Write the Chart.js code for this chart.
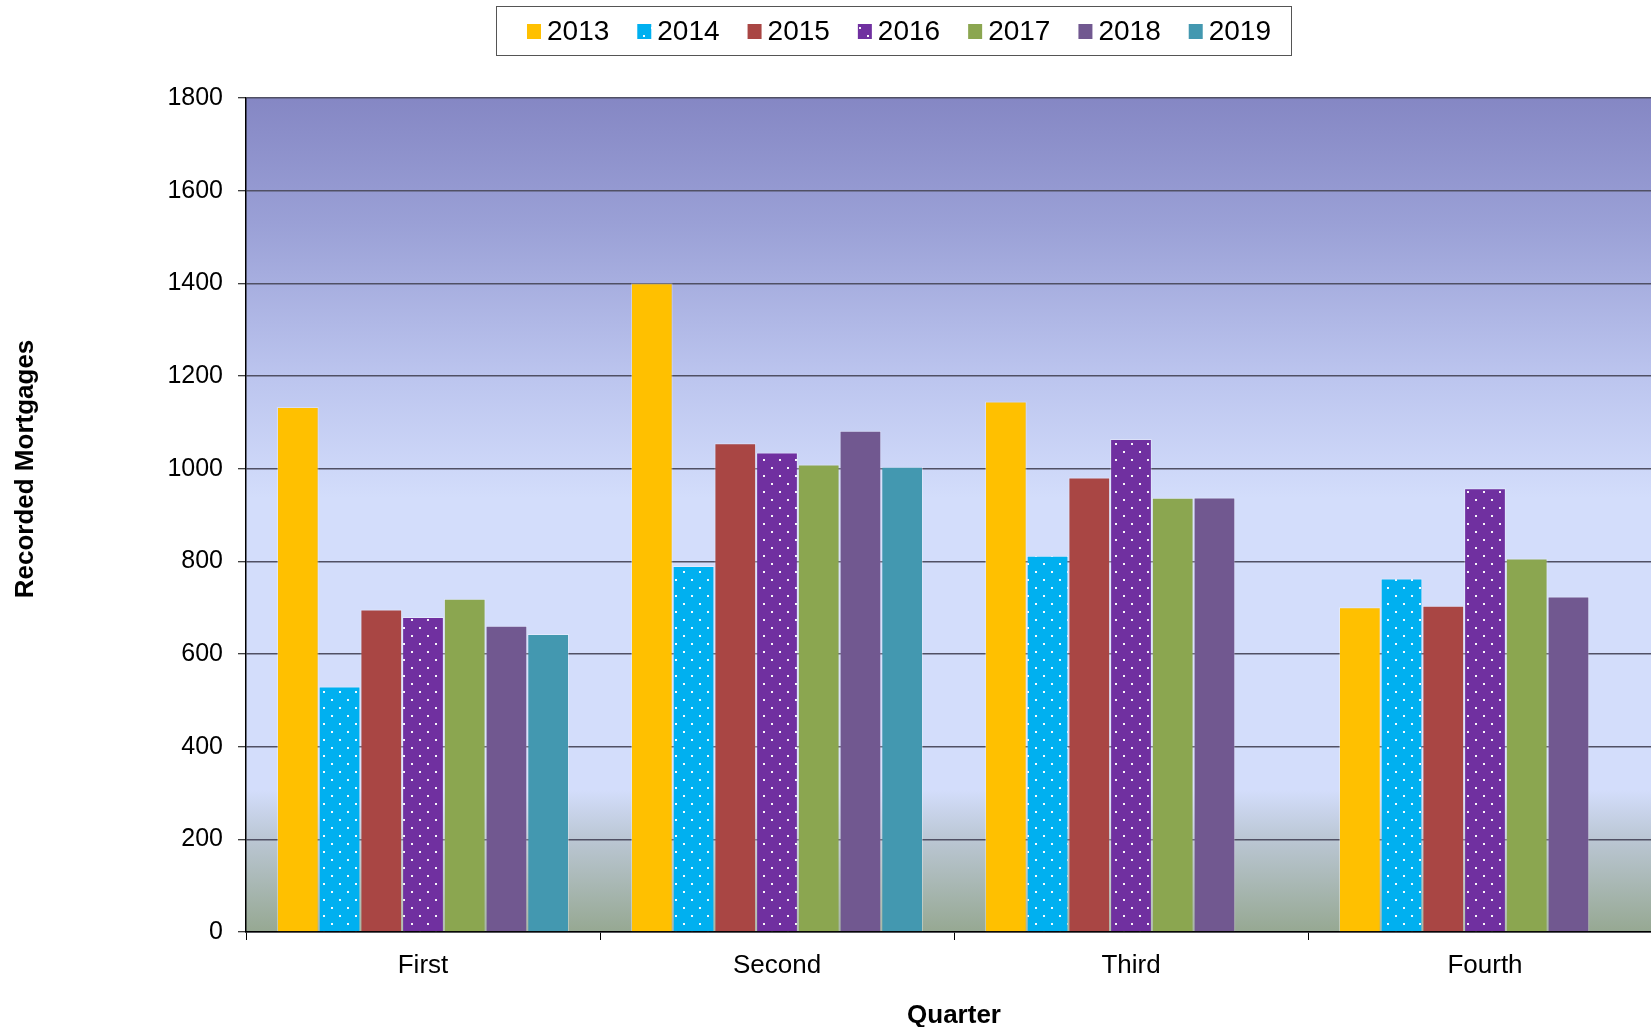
<!DOCTYPE html>
<html><head><meta charset="utf-8">
<script src="https://cdn.jsdelivr.net/npm/chart.js@4.4.0/dist/chart.umd.min.js"></script>
<style>
html,body{margin:0;padding:0;background:#fff;overflow:hidden;width:1651px;height:1027px;}
#wrap{position:absolute;left:0;top:0;width:1700px;height:1027px;}
</style></head><body>
<div id="wrap"><canvas id="c"></canvas></div>
<script>
const categories = ['First', 'Second', 'Third', 'Fourth'];
const seriesNames = ['2013', '2014', '2015', '2016', '2017', '2018', '2019'];
const s2013 = [1133, 1400, 1145, 701];
const s2014 = [530, 790, 812, 763];
const s2015 = [696, 1055, 981, 704];
const s2016 = [680, 1035, 1064, 958];
const s2017 = [719, 1009, 937, 806];
const s2018 = [661, 1082, 938, 724];
const s2019 = [643, 1004, null, null];
const yTickValues = [0, 200, 400, 600, 800, 1000, 1200, 1400, 1600, 1800];
const yTickLabels = ['0', '200', '400', '600', '800', '1000', '1200', '1400', '1600', '1800'];
const xTitle = 'Quarter';
const yTitle = 'Recorded Mortgages';

const seriesValues = [s2013, s2014, s2015, s2016, s2017, s2018, s2019];
const seriesColors = ['#FFC000', '#00B0F0', '#A94644', '#7030A0', '#8BA650', '#715890', '#4398B0'];
const dotted = [false, true, false, true, false, false, false];

function dotPattern(color) {
  const c = document.createElement('canvas');
  c.width = 16; c.height = 16;
  const x = c.getContext('2d');
  x.fillStyle = color; x.fillRect(0, 0, 16, 16);
  x.fillStyle = 'rgba(255,255,255,0.95)';
  x.fillRect(3, 3, 2, 2);
  x.fillRect(11, 11, 2, 2);
  return x.createPattern(c, 'repeat');
}
const fills = seriesColors.map((c, i) => dotted[i] ? dotPattern(c) : c);

const bgPlugin = {
  id: 'bg',
  beforeDraw(chart) {
    const {ctx, chartArea: a} = chart;
    const g = ctx.createLinearGradient(0, a.top, 0, a.bottom);
    g.addColorStop(0, '#8587C4');
    g.addColorStop(0.15, '#9AA0D6');
    g.addColorStop(0.33, '#BBC4EE');
    g.addColorStop(0.48, '#D3DDFB');
    g.addColorStop(0.83, '#D3DDFB');
    g.addColorStop(0.89, '#BAC6D3');
    g.addColorStop(1, '#96A892');
    ctx.save();
    ctx.fillStyle = g;
    ctx.fillRect(a.left, a.top, a.right - a.left, a.bottom - a.top);
    ctx.restore();
  }
};

const decoPlugin = {
  id: 'deco',
  afterDraw(chart) {
    const ctx = chart.ctx;
    ctx.save();
    // y title
    ctx.font = 'bold 26px "Liberation Sans", Arial, sans-serif';
    ctx.fillStyle = '#000';
    ctx.textAlign = 'center';
    ctx.textBaseline = 'middle';
    ctx.translate(26, 469);
    ctx.rotate(-Math.PI / 2);
    ctx.fillText(yTitle, 0, 0);
    ctx.restore();

    // legend
    ctx.save();
    ctx.strokeStyle = '#555';
    ctx.lineWidth = 1;
    ctx.strokeRect(496.5, 6.5, 795, 49);
    ctx.font = '28px "Liberation Sans", Arial, sans-serif';
    ctx.textBaseline = 'middle';
    ctx.textAlign = 'left';
    const ds = chart.data.datasets;
    const mw = 14, gap = 6, spacing = 28;
    const widths = ds.map(d => mw + gap + ctx.measureText(d.label).width);
    const total = widths.reduce((p, w) => p + w, 0) + spacing * (ds.length - 1);
    let x = 899 - total / 2;
    const cy = 31;
    ds.forEach((d, i) => {
      ctx.fillStyle = d.backgroundColor;
      ctx.fillRect(x, cy - 7, mw, 15);
      ctx.fillStyle = '#000';
      ctx.fillText(d.label, x + mw + gap, cy + 1);
      x += widths[i] + spacing;
    });
    ctx.restore();
  }
};

new Chart(document.getElementById('c'), {
  type: 'bar',
  data: {
    labels: categories,
    datasets: seriesNames.map((n, i) => ({
      label: n,
      data: seriesValues[i],
      backgroundColor: fills[i],
      borderColor: 'rgba(255,255,255,0.35)',
      borderWidth: 1,
      categoryPercentage: 0.825,
      barPercentage: 1.0
    }))
  },
  options: {
    responsive: true,
    maintainAspectRatio: false,
    animation: false,
    layout: {padding: {left: 0, right: 38, top: 98, bottom: 0}},
    plugins: {legend: {display: false}, tooltip: {enabled: false}},
    scales: {
      x: {
        grid: {display: true, drawOnChartArea: false, drawTicks: true, tickLength: 8, color: '#000', offset: true},
        border: {display: true, color: '#000', width: 1.5},
        ticks: {color: '#000', font: {family: '"Liberation Sans", Arial, sans-serif', size: 26}, padding: 10, maxRotation: 0},
        title: {display: true, text: xTitle, color: '#000', font: {family: '"Liberation Sans", Arial, sans-serif', size: 26, weight: 'bold', lineHeight: 0.85}, padding: {top: 0, bottom: 0}},
        afterFit(s) { s.height = 95; }
      },
      y: {
        min: 0, max: 1800,
        afterBuildTicks(s) { s.ticks = yTickValues.map(v => ({value: v})); },
        grid: {color: '#505064', lineWidth: 1.5, tickLength: 8, tickColor: '#000', tickWidth: 1},
        border: {display: true, color: '#000', width: 1.5},
        ticks: {
          color: '#000',
          font: {family: '"Liberation Sans", Arial, sans-serif', size: 25},
          padding: 15,
          callback: (v) => yTickLabels[yTickValues.indexOf(v)]
        },
        afterFit(s) { s.width = 246; }
      }
    }
  },
  plugins: [bgPlugin, decoPlugin]
});
</script>
</body></html>
